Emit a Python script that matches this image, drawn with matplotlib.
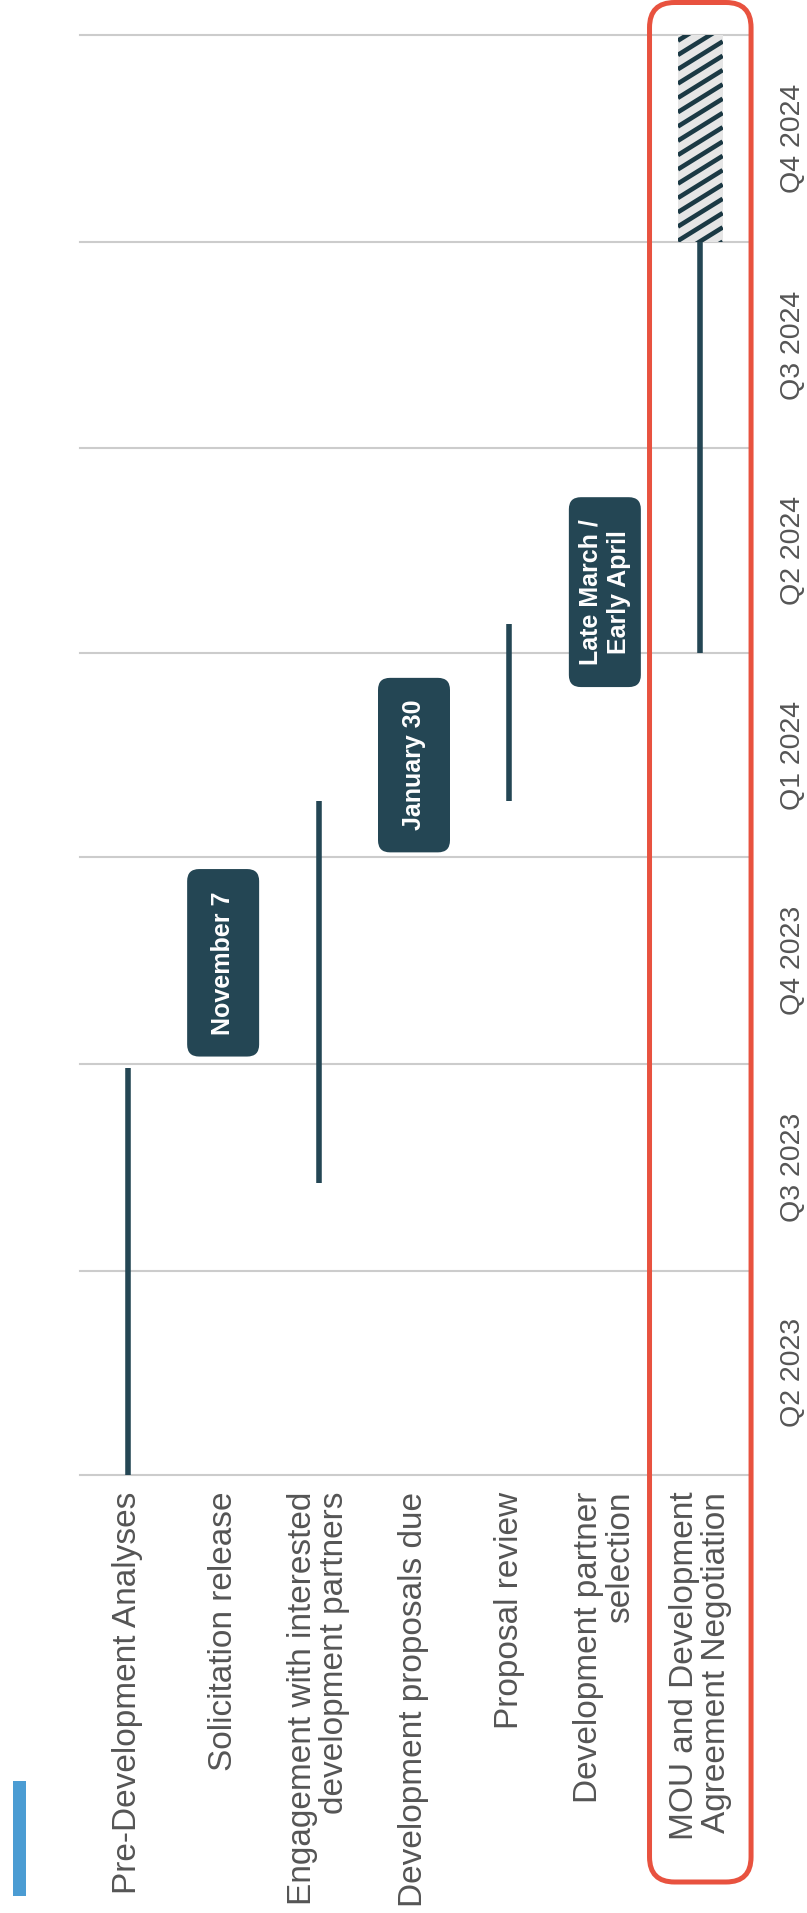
import matplotlib
matplotlib.use("Agg")
import matplotlib.pyplot as plt
import matplotlib.dates as mdates
from matplotlib.patches import FancyBboxPatch, Rectangle
from matplotlib.transforms import IdentityTransform
import numpy as np

plt.rcParams['font.family'] = ['Liberation Sans', 'DejaVu Sans']

# ---------------- data ----------------
categories = [
    "Pre-Development Analyses",
    "Solicitation release",
    "Engagement with interested\ndevelopment partners",
    "Development proposals due",
    "Proposal review",
    "Development partner\nselection",
    "MOU and Development\nAgreement Negotiation",
]

bar_cats = [0, 2, 4, 6]
bar_starts = ["2023-04-01", "2023-08-09", "2024-01-26", "2024-04-01"]
bar_ends = ["2023-09-29", "2024-01-26", "2024-04-14", "2024-10-01"]

tent_cats = [6]
tent_starts = ["2024-10-01"]
tent_ends = ["2025-01-01"]

milestone_cats = [1, 3, 5]
milestone_labels = ["November 7", "January 30", "Late March /\nEarly April"]
milestone_label_dates = ["2023-11-15", "2024-02-11", "2024-04-28"]

quarter_bounds = ["2023-04-01", "2023-07-01", "2023-10-01", "2024-01-01",
                  "2024-04-01", "2024-07-01", "2024-10-01", "2025-01-01"]
quarter_labels = ["Q2 2023", "Q3 2023", "Q4 2023", "Q1 2024",
                  "Q2 2024", "Q3 2024", "Q4 2024"]
highlight_cat = 6

# ---------------- styles ----------------
DARK = "#244654"
STRIPE = "#1b3944"
GRID = "#cccccc"
LABEL = "#555555"
RED = "#e8523f"
BLUE = "#4b9cd3"

W, H = 807, 1913
fig = plt.figure(figsize=(W / 100, H / 100), dpi=100)
ax = fig.add_axes([80 / W, 438 / H, 668 / W, 1440 / H])

qb = mdates.datestr2num(quarter_bounds)
qmid = (qb[:-1] + qb[1:]) / 2

ax.set_xlim(-0.5, len(categories) - 0.5)
ax.set_ylim(qb[0], qb[-1])
for s in ax.spines.values():
    s.set_visible(False)

ax.set_yticks(qb)
ax.set_yticklabels([])
ax.set_yticks(qmid, labels=quarter_labels, minor=True)
ax.yaxis.tick_right()
ax.tick_params(axis='y', which='both', length=0)
ax.tick_params(axis='y', which='minor', pad=23, labelsize=20.5, labelcolor=LABEL)
for lbl in ax.get_yticklabels(minor=True):
    lbl.set_rotation(90)
    lbl.set_va('center')
    lbl.set_ha('left')
ax.grid(axis='y', which='major', color=GRID, linewidth=1.5)
for gl in ax.get_ygridlines():
    gl.set_clip_on(False)
ax.set_axisbelow(True)

ax.set_xticks(range(len(categories)), labels=categories)
ax.tick_params(axis='x', length=0, pad=12, labelsize=24, labelcolor=LABEL)
for lbl in ax.get_xticklabels():
    lbl.set_rotation(90)
    lbl.set_multialignment('right')
    lbl.set_linespacing(1.05)

# solid bars
for c, s, e in zip(bar_cats, bar_starts, bar_ends):
    ax.plot([c, c], mdates.datestr2num([s, e]), color=DARK, lw=4,
            solid_capstyle='butt', zorder=3)

# hatched (tentative) bars
bw = 0.47
for c, s, e in zip(tent_cats, tent_starts, tent_ends):
    y0, y1 = mdates.datestr2num([s, e])
    rect = Rectangle((c - bw / 2, y0), bw, y1 - y0, facecolor="#e6e6e6",
                     edgecolor='none', zorder=3)
    ax.add_patch(rect)
    (px0, py0) = ax.transData.transform((c - bw / 2, y0))
    (px1, py1) = ax.transData.transform((c + bw / 2, y1))
    slope = 0.62
    period = 14.3
    rise = (px1 - px0) * slope
    for off in np.arange(py0 - rise - period, py1 + period, period):
        ln, = ax.plot([px0, px1], [off, off + rise], color=STRIPE, lw=3.3,
                      transform=IdentityTransform(), zorder=3.5,
                      solid_capstyle='butt')
        ln.set_clip_path(rect)

# milestone labels
texts = []
for c, lab, d in zip(milestone_cats, milestone_labels, milestone_label_dates):
    t = ax.text(c, mdates.datestr2num(d), lab, rotation=90, ha='center',
                va='center', color='white', fontweight='bold', fontsize=18,
                multialignment='center', zorder=6)
    texts.append(t)

fig.canvas.draw()
r = fig.canvas.get_renderer()
for t in texts:
    bb = t.get_window_extent(r)
    cx = (bb.x0 + bb.x1) / 2
    box = FancyBboxPatch((cx - 36, bb.y0 - 22), 72, bb.height + 44,
                         boxstyle="round,pad=0,rounding_size=12",
                         transform=IdentityTransform(), facecolor=DARK,
                         edgecolor='none', zorder=5)
    ax.add_artist(box)

# highlight box around last category
hx0 = ax.transData.transform((highlight_cat - 0.532, 0))[0]
hx1 = ax.transData.transform((highlight_cat + 0.532, 0))[0]
hl = FancyBboxPatch((hx0, 31), hx1 - hx0, 1879.5,
                    boxstyle="round,pad=0,rounding_size=25",
                    transform=IdentityTransform(), facecolor='none',
                    edgecolor=RED, linewidth=3.6, zorder=10)
fig.add_artist(hl)

# accent bar
fig.add_artist(Rectangle((13, 17), 13, 115, transform=IdentityTransform(),
                         facecolor=BLUE, edgecolor='none'))

fig.savefig("out.png", dpi=100)
